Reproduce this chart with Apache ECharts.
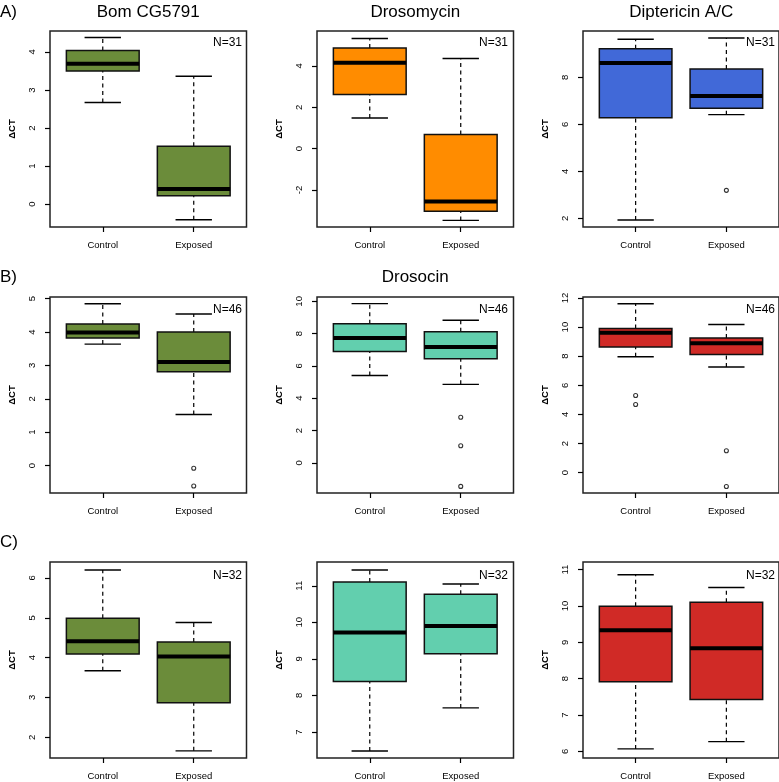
<!DOCTYPE html>
<html><head><meta charset="utf-8">
<script src="https://cdn.jsdelivr.net/npm/echarts@6/dist/echarts.min.js"></script>
<style>html,body{margin:0;padding:0;background:#fff}#c{width:779px;height:782px}</style>
</head><body><div id="c"></div>
<script>
// ---------- data ----------
const categories = ['Control', 'Exposed'];
const rowLabels = ['A)', 'B)', 'C)'];
const nLabels = ['N=31', 'N=46', 'N=32'];
const geneTitles = ['Bom CG5791', 'Drosomycin', 'Diptericin A/C'];
const rowBTitle = 'Drosocin';
const yName = 'ΔCT';

// box stats: [lower whisker, Q1, median, Q3, upper whisker]
const a1Control = [2.67, 3.50, 3.69, 4.04, 4.38];
const a1Exposed = [-0.41, 0.22, 0.40, 1.52, 3.36];
const a1Outliers = [[], []];
const a1Range = [-0.60, 4.55];
const a1Ticks = [0, 1, 2, 3, 4];

const a2Control = [1.48, 2.62, 4.15, 4.87, 5.33];
const a2Exposed = [-3.47, -3.03, -2.56, 0.68, 4.36];
const a2Outliers = [[], []];
const a2Range = [-3.79, 5.69];
const a2Ticks = [-2, 0, 2, 4];

const a3Control = [1.93, 6.28, 8.61, 9.22, 9.62];
const a3Exposed = [6.41, 6.68, 7.20, 8.35, 9.67];
const a3Outliers = [[], [3.19]];
const a3Range = [1.63, 9.97];
const a3Ticks = [2, 4, 6, 8];

const b1Control = [3.64, 3.82, 3.99, 4.24, 4.85];
const b1Exposed = [1.53, 2.81, 3.10, 4.00, 4.54];
const b1Outliers = [[], [-0.08, -0.61]];
const b1Range = [-0.82, 5.05];
const b1Ticks = [0, 1, 2, 3, 4, 5];

const b2Control = [5.41, 6.90, 7.73, 8.61, 9.86];
const b2Exposed = [4.86, 6.45, 7.18, 8.11, 8.83];
const b2Outliers = [[], [2.82, 1.06, -1.46]];
const b2Range = [-1.87, 10.27];
const b2Ticks = [0, 2, 4, 6, 8, 10];

const b3Control = [7.96, 8.63, 9.62, 9.91, 11.61];
const b3Exposed = [7.26, 8.11, 8.89, 9.26, 10.18];
const b3Outliers = [[5.30, 4.68], [1.50, -0.95]];
const b3Range = [-1.40, 12.07];
const b3Ticks = [0, 2, 4, 6, 8, 10, 12];

const c1Control = [3.67, 4.09, 4.41, 4.99, 6.20];
const c1Exposed = [1.66, 2.87, 4.03, 4.39, 4.88];
const c1Outliers = [[], []];
const c1Range = [1.48, 6.40];
const c1Ticks = [2, 3, 4, 5, 6];

const c2Control = [6.48, 8.38, 9.72, 11.10, 11.43];
const c2Exposed = [7.66, 9.14, 9.90, 10.77, 11.05];
const c2Outliers = [[], []];
const c2Range = [6.29, 11.65];
const c2Ticks = [7, 8, 9, 10, 11];

const c3Control = [6.07, 7.92, 9.33, 9.99, 10.86];
const c3Exposed = [6.27, 7.43, 8.84, 10.10, 10.51];
const c3Outliers = [[], []];
const c3Range = [5.82, 11.21];
const c3Ticks = [6, 7, 8, 9, 10, 11];

// ---------- styling / layout ----------
const colColors = {
  green: '#6b8c3a', orange: '#ff8c00', blue: '#4169d8', teal: '#62cfae', red: '#d02a26'
};
const panels = [
  {c: a1Control, e: a1Exposed, o: a1Outliers, r: a1Range, t: a1Ticks, col: colColors.green},
  {c: a2Control, e: a2Exposed, o: a2Outliers, r: a2Range, t: a2Ticks, col: colColors.orange},
  {c: a3Control, e: a3Exposed, o: a3Outliers, r: a3Range, t: a3Ticks, col: colColors.blue},
  {c: b1Control, e: b1Exposed, o: b1Outliers, r: b1Range, t: b1Ticks, col: colColors.green},
  {c: b2Control, e: b2Exposed, o: b2Outliers, r: b2Range, t: b2Ticks, col: colColors.teal},
  {c: b3Control, e: b3Exposed, o: b3Outliers, r: b3Range, t: b3Ticks, col: colColors.red},
  {c: c1Control, e: c1Exposed, o: c1Outliers, r: c1Range, t: c1Ticks, col: colColors.green},
  {c: c2Control, e: c2Exposed, o: c2Outliers, r: c2Range, t: c2Ticks, col: colColors.teal},
  {c: c3Control, e: c3Exposed, o: c3Outliers, r: c3Range, t: c3Ticks, col: colColors.red}
];
const colLeft = [50, 317, 583];
const colWidth = 196.5;
const rowTop = [31, 297, 562];
const rowHeight = 196;
const nRight = [242, 508, 775];
const nCenterY = [44, 311, 577];
const FONT = '"Liberation Sans", Arial, Helvetica, sans-serif';

const grids = [], xAxes = [], yAxes = [], series = [], titles = [];

function makeRender(fill) {
  return function (params, api) {
    const x = api.value(0);
    const lo = api.coord([x, api.value(1)]);
    const q1 = api.coord([x, api.value(2)]);
    const md = api.coord([x, api.value(3)]);
    const q3 = api.coord([x, api.value(4)]);
    const hi = api.coord([x, api.value(5)]);
    const half = api.size([0.4, 0])[0];
    const cap = half / 2;
    const cx = lo[0];
    const dashed = {stroke: '#000', lineWidth: 1.2, lineDash: [4, 3.5]};
    const solid = {stroke: '#000', lineWidth: 1.4};
    return {
      type: 'group',
      children: [
        {type: 'line', shape: {x1: cx, y1: lo[1], x2: cx, y2: q1[1]}, style: dashed},
        {type: 'line', shape: {x1: cx, y1: q3[1], x2: cx, y2: hi[1]}, style: dashed},
        {type: 'line', shape: {x1: cx - cap, y1: lo[1], x2: cx + cap, y2: lo[1]}, style: solid},
        {type: 'line', shape: {x1: cx - cap, y1: hi[1], x2: cx + cap, y2: hi[1]}, style: solid},
        {type: 'rect', shape: {x: cx - half, y: q3[1], width: 2 * half, height: q1[1] - q3[1]},
          style: {fill: fill, stroke: '#111', lineWidth: 1.5}},
        {type: 'line', shape: {x1: cx - half, y1: md[1], x2: cx + half, y2: md[1]},
          style: {stroke: '#000', lineWidth: 4}}
      ]
    };
  };
}

panels.forEach((p, i) => {
  const row = Math.floor(i / 3), col = i % 3;
  grids.push({left: colLeft[col], top: rowTop[row], width: colWidth, height: rowHeight,
    show: true, borderColor: '#222', borderWidth: 1.5, backgroundColor: 'transparent', containLabel: false});
  xAxes.push({
    type: 'value', gridIndex: i, min: 0.42, max: 2.58, position: 'bottom',
    axisLine: {show: false, onZero: false}, splitLine: {show: false},
    axisTick: {show: true, length: 5, lineStyle: {color: '#000', width: 1.2}, customValues: [1, 2]},
    axisLabel: {show: true, customValues: [1, 2], margin: 13, fontSize: 9.5, color: '#000', fontFamily: FONT,
      formatter: v => categories[Math.round(v) - 1]}
  });
  yAxes.push({
    type: 'value', gridIndex: i, min: p.r[0], max: p.r[1], position: 'left',
    axisLine: {show: false, onZero: false}, splitLine: {show: false},
    axisTick: {show: true, length: 5, lineStyle: {color: '#000', width: 1.2}, customValues: p.t},
    axisLabel: {show: true, customValues: p.t, rotate: 90, margin: 13, fontSize: 9.5, color: '#000', fontFamily: FONT,
      formatter: v => String(Math.round(v))},
    name: yName, nameLocation: 'middle', nameRotate: 90, nameGap: 33,
    nameTextStyle: {fontSize: 9.5, color: '#000', fontWeight: 'bold', fontFamily: FONT}
  });
  series.push({
    type: 'custom', xAxisIndex: i, yAxisIndex: i,
    renderItem: makeRender(p.col),
    encode: {x: 0, y: [1, 2, 3, 4, 5]},
    data: [[1].concat(p.c), [2].concat(p.e)],
    silent: true
  });
  const out = [];
  p.o.forEach((arr, k) => arr.forEach(v => out.push([k + 1, v])));
  if (out.length) {
    series.push({
      type: 'scatter', xAxisIndex: i, yAxisIndex: i, data: out,
      symbol: 'circle', symbolSize: 4, silent: true,
      itemStyle: {color: 'rgba(0,0,0,0)', borderColor: '#000', borderWidth: 1.1}
    });
  }
  titles.push({text: nLabels[row], left: nRight[col], top: nCenterY[row] - 7, textAlign: 'right',
    textStyle: {fontSize: 12, fontWeight: 'normal', color: '#000', fontFamily: FONT}});
});

geneTitles.forEach((t, col) => {
  titles.push({text: t, left: colLeft[col] + colWidth / 2, top: 4, textAlign: 'center',
    textStyle: {fontSize: 17, fontWeight: 'normal', color: '#000', fontFamily: FONT}});
});
titles.push({text: rowBTitle, left: colLeft[1] + colWidth / 2, top: 269, textAlign: 'center',
  textStyle: {fontSize: 17, fontWeight: 'normal', color: '#000', fontFamily: FONT}});
const rowLabelTop = [4, 269, 534];
rowLabels.forEach((t, r) => {
  titles.push({text: t, left: 0, top: rowLabelTop[r],
    textStyle: {fontSize: 17, fontWeight: 'normal', color: '#000', fontFamily: FONT}});
});
titles.forEach(t => { t.padding = 0; });

const chart = echarts.init(document.getElementById('c'), null, {renderer: 'canvas'});
chart.setOption({
  animation: false,
  backgroundColor: '#fff',
  title: titles,
  grid: grids,
  xAxis: xAxes,
  yAxis: yAxes,
  series: series
});
</script>
</body></html>
